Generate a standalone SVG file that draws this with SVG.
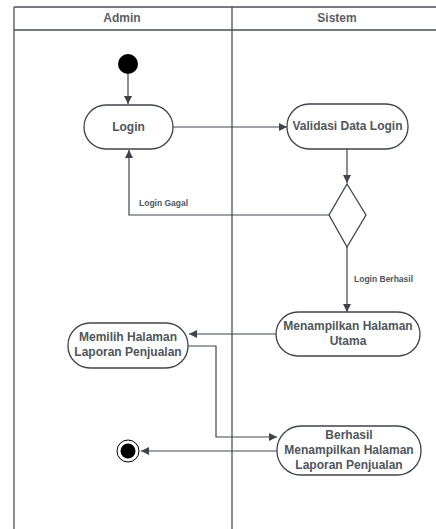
<svg xmlns="http://www.w3.org/2000/svg" width="436" height="529" viewBox="0 0 436 529">
  <style>
    .lane { stroke: #4a4f57; stroke-width: 1.3; fill: none; }
    .hdr { font-family: "Liberation Sans", Arial, sans-serif; font-weight: bold; font-size: 12px; fill: #5a5f66; text-anchor: middle; }
    .act { fill: #ffffff; stroke: #3f444c; stroke-width: 1.3; }
    .lbl { font-family: "Liberation Sans", Arial, sans-serif; font-weight: bold; font-size: 12px; fill: #50555c; text-anchor: middle; }
    .small { font-family: "Liberation Sans", Arial, sans-serif; font-weight: bold; font-size: 8.5px; fill: #50555c; }
    .flow { stroke: #3f444c; stroke-width: 1.2; fill: none; marker-end: url(#arrow); }
  </style>
  <defs>
    <marker id="arrow" viewBox="0 0 10 10" refX="10" refY="5" markerWidth="8" markerHeight="8" markerUnits="userSpaceOnUse" orient="auto">
      <path d="M0,0 L10,5 L0,10 z" fill="#3f444c"/>
    </marker>
  </defs>
  <rect width="436" height="529" fill="#ffffff"/>

  <!-- swimlanes -->
  <g id="lanes">
    <line class="lane" x1="14" y1="7" x2="436" y2="7"/>
    <line class="lane" x1="14" y1="30" x2="436" y2="30"/>
    <line class="lane" x1="14" y1="7" x2="14" y2="529"/>
    <line class="lane" x1="232" y1="7" x2="232" y2="529"/>
    <text class="hdr" x="122" y="22">Admin</text>
    <text class="hdr" x="337" y="22">Sistem</text>
  </g>

  <!-- connectors -->
  <g id="connectors">
    <line class="flow" x1="128" y1="74" x2="128" y2="104"/>
    <line class="flow" x1="173" y1="127" x2="287" y2="127"/>
    <line class="flow" x1="347" y1="149" x2="347" y2="183"/>
    <polyline class="flow" points="329,215 129,215 129,150"/>
    <text class="small" x="139" y="206">Login Gagal</text>
    <line class="flow" x1="347" y1="247" x2="347" y2="312"/>
    <text class="small" x="354" y="282">Login Berhasil</text>
    <line class="flow" x1="276" y1="334" x2="189" y2="334"/>
    <polyline class="flow" points="188,346 216,346 216,437 277,437"/>
    <line class="flow" x1="277" y1="451" x2="141" y2="451"/>
  </g>

  <!-- nodes -->
  <g id="start">
    <circle cx="128" cy="64" r="10" fill="#000000"/>
  </g>
  <g id="login">
    <rect class="act" x="84" y="105" width="89" height="44" rx="22"/>
    <text class="lbl" x="128.5" y="131">Login</text>
  </g>
  <g id="validasi">
    <rect class="act" x="287" y="104" width="121" height="45" rx="22"/>
    <text class="lbl" x="347.5" y="130">Validasi Data Login</text>
  </g>
  <g id="decision">
    <polygon class="act" points="347,184 366,215 347,247 329,215"/>
  </g>
  <g id="halaman-utama">
    <rect class="act" x="276" y="312" width="144" height="44" rx="22"/>
    <text class="lbl" x="348" y="330">Menampilkan Halaman</text>
    <text class="lbl" x="348" y="345">Utama</text>
  </g>
  <g id="memilih">
    <rect class="act" x="68" y="323" width="120" height="45" rx="22"/>
    <text class="lbl" x="128" y="341">Memilih Halaman</text>
    <text class="lbl" x="128" y="356">Laporan Penjualan</text>
  </g>
  <g id="berhasil">
    <rect class="act" x="277" y="426" width="144" height="49" rx="24"/>
    <text class="lbl" x="349" y="439">Berhasil</text>
    <text class="lbl" x="349" y="454">Menampilkan Halaman</text>
    <text class="lbl" x="349" y="469">Laporan Penjualan</text>
  </g>
  <g id="end">
    <circle cx="128" cy="451" r="11" fill="#ffffff" stroke="#000000" stroke-width="1"/>
    <circle cx="128" cy="451" r="7.5" fill="#000000"/>
  </g>
</svg>
